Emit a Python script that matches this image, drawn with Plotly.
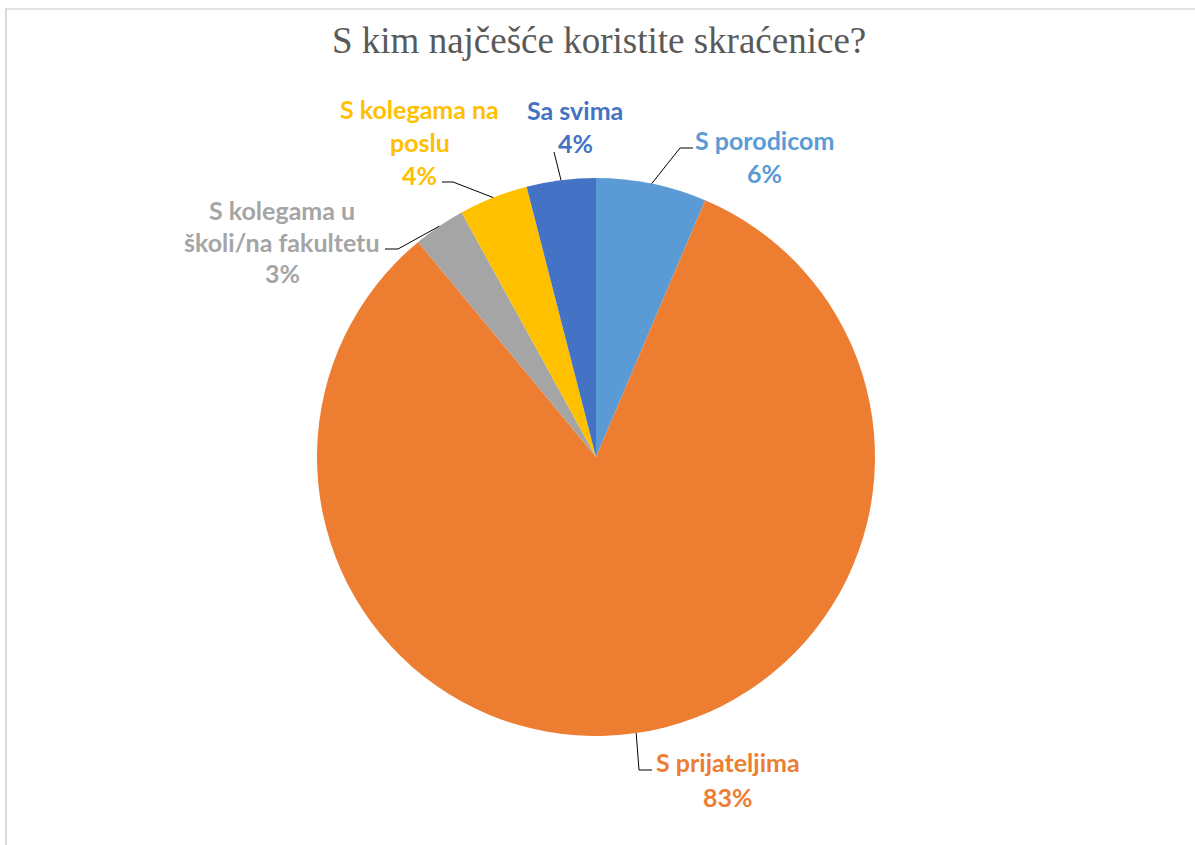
import math
import plotly.graph_objects as go

# ---- data ----
categories = ["S porodicom", "S prijateljima", "S kolegama u školi/na fakultetu",
              "S kolegama na poslu", "Sa svima"]
values = [6.4, 82.6, 3.0, 4.0, 4.0]
label_lines = [["S porodicom"], ["S prijateljima"], ["S kolegama u", "školi/na fakultetu"],
               ["S kolegama na", "poslu"], ["Sa svima"]]
colors = ["#5B9BD5", "#ED7D31", "#A5A5A5", "#FFC000", "#4472C4"]
title_text = "S kim najčešće koristite skraćenice?"

# ---- layout constants (pixels) ----
W, H = 1195, 845
CX, CY, R = 596, 457, 279
# label anchor: center x, first line y, line spacing
label_pos = [(765, 140, 33), (728, 762, 35), (282, 210, 31.5), (420, 109, 33), (575, 110, 33)]
# leader elbow and end points
leader_pts = [((680, 148), (693, 148)), ((639, 770), (652, 770)), ((398, 249), (385, 249)),
              ((453, 182), (442, 182)), ((554, 152), (554, 152))]
LABEL_FONT = "Lato"
LABEL_SIZE = 25


def px(x):
    return x / W


def py(y):
    return 1 - y / H


fig = go.Figure(go.Pie(
    labels=categories, values=values, sort=False, direction="clockwise", rotation=0,
    marker=dict(colors=colors, line=dict(width=0)), textinfo="none", hoverinfo="label+percent",
    showlegend=False,
    domain=dict(x=[px(CX - R), px(CX + R)], y=[py(CY + R), py(CY - R)]),
))

total = sum(values)
annotations = []
shapes = []
cum = 0.0
for i, v in enumerate(values):
    mid = (cum + v / 2) / total * 2 * math.pi
    cum += v
    sx = CX + R * math.sin(mid)
    sy = CY - R * math.cos(mid)
    (ex, ey), (fx, fy) = leader_pts[i]
    shapes.append(dict(type="path", xref="paper", yref="paper",
                       path=f"M {px(sx)} {py(sy)} L {px(ex)} {py(ey)} L {px(fx)} {py(fy)}",
                       line=dict(color="#000000", width=1)))
    lx, ly, sp = label_pos[i]
    lines = label_lines[i] + [f"{round(v / total * 100)}%"]
    for j, t in enumerate(lines):
        annotations.append(dict(text=f"<b>{t}</b>", x=px(lx), y=py(ly + j * sp), xref="paper",
                                yref="paper", showarrow=False, xanchor="center", yanchor="middle",
                                font=dict(family=LABEL_FONT, size=LABEL_SIZE, color=colors[i])))

annotations.append(dict(text=title_text, x=px(599), y=py(40), xref="paper", yref="paper",
                        showarrow=False, xanchor="center", yanchor="middle",
                        font=dict(family="Liberation Serif, Times New Roman, serif", size=37,
                                  color="#595959")))

# chart area border (top and left visible)
shapes.append(dict(type="line", xref="paper", yref="paper", x0=px(5), x1=1, y0=py(9), y1=py(9),
                   line=dict(color="#D9D9D9", width=1.5)))
shapes.append(dict(type="line", xref="paper", yref="paper", x0=px(6), x1=px(6), y0=py(9), y1=0,
                   line=dict(color="#D9D9D9", width=2)))

fig.update_layout(width=W, height=H, margin=dict(l=0, r=0, t=0, b=0),
                  paper_bgcolor="white", plot_bgcolor="white",
                  annotations=annotations, shapes=shapes)

fig.write_html("out.html")
